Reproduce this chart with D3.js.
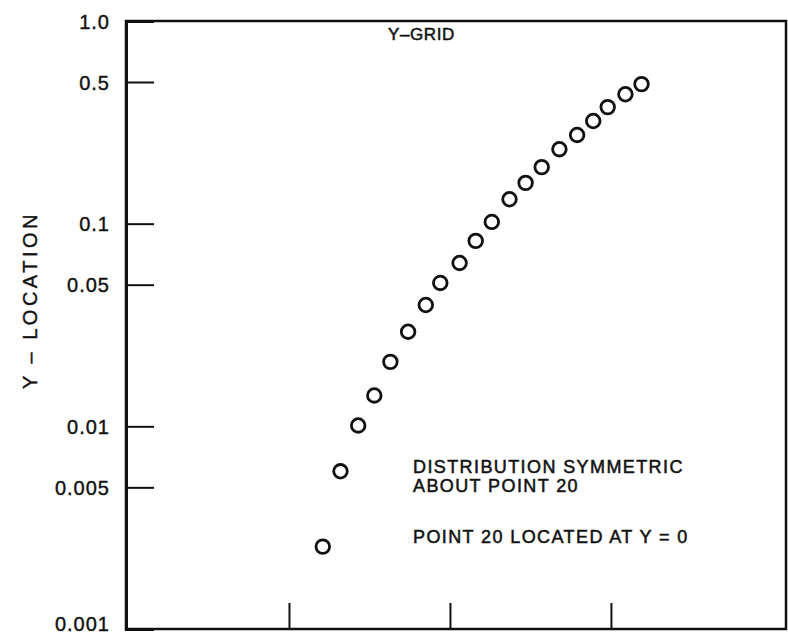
<!DOCTYPE html>
<html>
<head>
<meta charset="utf-8">
<script src="https://cdn.jsdelivr.net/npm/d3@7"></script>
<style>
  body { margin: 0; background: #fff; }
  text { font-family: "Liberation Sans", Arial, sans-serif; fill: #111; }
</style>
</head>
<body>
<svg id="canvas"></svg>
<script>
let width = 788
let height = 637
let plotLeft = 126
let plotRight = 786
let plotTop = 21
let plotBottom = 629

// values
let pointX = [1.21, 1.32, 1.43, 1.53, 1.63, 1.74, 1.85, 1.94, 2.06, 2.16,
              2.26, 2.37, 2.47, 2.57, 2.68, 2.79, 2.89, 2.98, 3.09, 3.19]
let pointY = [0.00255, 0.0060, 0.0101, 0.0142, 0.0208, 0.0293, 0.0397, 0.0510, 0.0640, 0.0822,
              0.102, 0.132, 0.159, 0.190, 0.233, 0.274, 0.321, 0.376, 0.435, 0.488]
let yTicks = [0.001, 0.005, 0.01, 0.05, 0.1, 0.5, 1.0]
let yTickLabels = ['0.001', '0.005', '0.01', '0.05', '0.1', '0.5', '1.0']
let xTicks = [1, 2, 3]
let notes = ['DISTRIBUTION SYMMETRIC', 'ABOUT POINT 20', 'POINT 20 LOCATED AT Y = 0']

let canvas = d3.select('#canvas')
canvas.attr('width', width).attr('height', height)

let xScale = d3.scaleLinear()
    .domain([0, 4.1])
    .range([128, 788])
let yScale = d3.scaleLog()
    .domain([0.001, 1.0])
    .range([plotBottom, plotTop])

// frame
canvas.append('path')
    .attr('d', 'M' + plotLeft + ',' + plotTop + 'H' + plotRight + 'V' + plotBottom + 'H' + plotLeft + 'Z')
    .attr('fill', 'none')
    .attr('stroke', '#111')
    .attr('stroke-width', 2.5)

let yAxis = d3.axisLeft(yScale)
    .tickValues(yTicks)
    .tickFormat((d, i) => yTickLabels[i])
    .tickSize(-28)
    .tickPadding(16)
let gy = canvas.append('g')
    .attr('transform', 'translate(' + plotLeft + ',0)')
    .call(yAxis)
gy.select('.domain').attr('stroke', '#111').attr('stroke-width', 3)
gy.selectAll('.tick line').attr('stroke', '#111').attr('stroke-width', 2)
gy.selectAll('.tick text')
    .attr('font-size', 20)
    .attr('letter-spacing', 1)
    .attr('fill', '#111')
    .attr('stroke', '#111')
    .attr('stroke-width', 0.4)
    .attr('dy', (d) => d === 0.001 ? '0em' : '0.35em')
    .attr('y', (d) => d === 0.001 ? 1 : 0)
    .style('font-family', '"Liberation Sans", Arial, sans-serif')

let xAxis = d3.axisBottom(xScale)
    .tickValues(xTicks)
    .tickFormat('')
    .tickSize(-26)
let gx = canvas.append('g')
    .attr('transform', 'translate(0,' + plotBottom + ')')
    .call(xAxis)
gx.select('.domain').remove()
gx.selectAll('.tick line').attr('stroke', '#111').attr('stroke-width', 2)

// points
canvas.selectAll('circle')
    .data(pointY)
    .enter()
    .append('circle')
    .attr('cx', (d, i) => xScale(pointX[i]))
    .attr('cy', (d) => yScale(d))
    .attr('r', 6.8)
    .attr('fill', 'none')
    .attr('stroke', '#111')
    .attr('stroke-width', 2.8)

// labels
canvas.append('text')
    .attr('x', 388)
    .attr('y', 40)
    .attr('font-size', 17)
    .attr('letter-spacing', 0.6)
    .attr('stroke', '#111')
    .attr('stroke-width', 0.5)
    .text('Y\u2013GRID')

canvas.append('text')
    .attr('transform', 'translate(37,300) rotate(-90)')
    .attr('text-anchor', 'middle')
    .attr('font-size', 20)
    .attr('letter-spacing', 3.5)
    .attr('stroke', '#111')
    .attr('stroke-width', 0.4)
    .text('Y \u2013 LOCATION')

let noteY = [473, 492, 543]
canvas.selectAll('.note')
    .data(notes)
    .enter()
    .append('text')
    .attr('class', 'note')
    .attr('x', 413)
    .attr('y', (d, i) => noteY[i])
    .attr('font-size', 18)
    .attr('letter-spacing', 1.4)
    .attr('stroke', '#111')
    .attr('stroke-width', 0.5)
    .text((d) => d)
</script>
</body>
</html>
